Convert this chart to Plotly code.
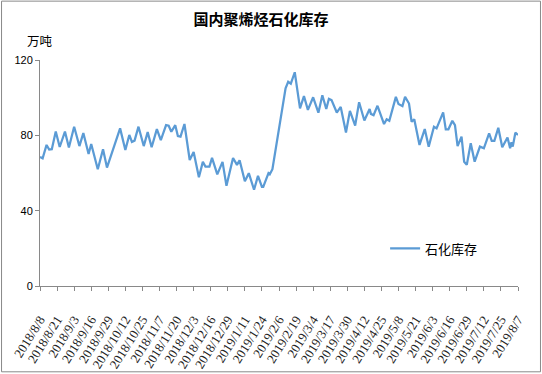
import plotly.graph_objects as go

dates = [
    "2018-08-08", "2018-08-10", "2018-08-13", "2018-08-15", "2018-08-17", "2018-08-20",
    "2018-08-23", "2018-08-27", "2018-08-30", "2018-09-03", "2018-09-07", "2018-09-10",
    "2018-09-14", "2018-09-16", "2018-09-21", "2018-09-25", "2018-09-28", "2018-10-08",
    "2018-10-12", "2018-10-15", "2018-10-17", "2018-10-19", "2018-10-22", "2018-10-26",
    "2018-10-29", "2018-11-01", "2018-11-05", "2018-11-08", "2018-11-12", "2018-11-14",
    "2018-11-16", "2018-11-19", "2018-11-21", "2018-11-23", "2018-11-26", "2018-11-30",
    "2018-12-03", "2018-12-07", "2018-12-10", "2018-12-12", "2018-12-15", "2018-12-17",
    "2018-12-21", "2018-12-25", "2018-12-28", "2019-01-02", "2019-01-05", "2019-01-07",
    "2019-01-11", "2019-01-14", "2019-01-18", "2019-01-21", "2019-01-24", "2019-01-25",
    "2019-01-29", "2019-01-30", "2019-02-01", "2019-02-11", "2019-02-13", "2019-02-15",
    "2019-02-18", "2019-02-22", "2019-02-25", "2019-02-28", "2019-03-04", "2019-03-08",
    "2019-03-11", "2019-03-14", "2019-03-16", "2019-03-18", "2019-03-22", "2019-03-25",
    "2019-03-29", "2019-04-01", "2019-04-05", "2019-04-08", "2019-04-12", "2019-04-16",
    "2019-04-17", "2019-04-19", "2019-04-22", "2019-04-27", "2019-04-29", "2019-05-01",
    "2019-05-06", "2019-05-08", "2019-05-11", "2019-05-13", "2019-05-16", "2019-05-18",
    "2019-05-20", "2019-05-24", "2019-05-28", "2019-05-31", "2019-06-04", "2019-06-06",
    "2019-06-11", "2019-06-13", "2019-06-15", "2019-06-18", "2019-06-20", "2019-06-22",
    "2019-06-25", "2019-06-27", "2019-06-29", "2019-07-02", "2019-07-05", "2019-07-09",
    "2019-07-12", "2019-07-16", "2019-07-18", "2019-07-20", "2019-07-23", "2019-07-26",
    "2019-07-30", "2019-08-01", "2019-08-02", "2019-08-03", "2019-08-05", "2019-08-07",
]

inventory = [
    68.5, 67.8, 74.9, 72.5, 72.6, 82.0,
    73.8, 82.0, 73.5, 84.6, 74.3, 81.2,
    70.1, 75.4, 62.0, 72.6, 62.9, 83.7,
    72.2, 80.2, 76.5, 77.2, 84.6, 74.3,
    81.7, 73.7, 83.3, 77.5, 85.4, 85.1,
    81.9, 85.4, 79.6, 79.3, 86.0, 66.9,
    71.2, 57.7, 65.9, 63.4, 63.4, 68.0,
    59.3, 65.9, 53.2, 68.0, 64.3, 66.8,
    55.6, 59.9, 51.1, 58.5, 52.6, 52.6,
    59.9, 59.3, 62.0, 105.0, 108.4, 107.4,
    113.5, 94.3, 100.8, 93.5, 100.2, 92.0,
    101.3, 94.0, 99.4, 98.7, 92.1, 95.1,
    81.5, 93.0, 85.2, 97.6, 87.9, 94.0,
    91.4, 90.7, 95.7, 86.0, 88.5, 87.7,
    100.4, 96.6, 95.5, 100.4, 96.9, 87.2,
    88.5, 74.9, 83.3, 74.0, 84.6, 83.7,
    92.2, 83.2, 83.2, 87.7, 85.4, 74.3,
    79.3, 66.0, 64.3, 75.8, 66.0, 74.0,
    73.1, 81.1, 77.1, 77.1, 84.0, 73.7,
    78.9, 73.1, 76.3, 74.0, 81.4, 80.2,
]

series_name = "石化库存"
chart_title = "国内聚烯烃石化库存"
unit_label = "万吨"
y_ticks = [0, 40, 80, 120]
x_start = "2018-08-08"
x_end = "2019-08-07"
tick_step_days = 13

axis_color = "#898989"

fig = go.Figure()
fig.add_trace(go.Scatter(
    x=dates, y=inventory, mode="lines", name=series_name,
    line=dict(color="#5B9BD5", width=2.25),
))

fig.update_layout(
    width=542, height=374,
    margin=dict(l=39.5, r=24, t=60, b=87.5, autoexpand=False),
    paper_bgcolor="white", plot_bgcolor="white",
    title=dict(
        text="<b>" + chart_title + "</b>",
        x=261 / 542, xref="container", xanchor="center",
        y=1 - 20 / 374, yref="container", yanchor="middle",
        font=dict(family="Noto Sans CJK SC", size=15, color="black"),
    ),
    showlegend=True,
    legend=dict(
        x=0.722, y=0.166, xanchor="left", yanchor="middle",
        bgcolor="rgba(0,0,0,0)",
        font=dict(family="Noto Sans CJK SC", size=13, color="black"),
    ),
    xaxis=dict(
        type="date", automargin=False,
        range=[x_start, x_end],
        tick0=x_start, dtick=tick_step_days * 86400000,
        tickformat="%Y/%-m/%-d",
        tickangle=-58,
        ticklabelstandoff=16,
        showline=True, linecolor=axis_color, linewidth=1,
        ticks="outside", ticklen=4, tickcolor=axis_color,
        showgrid=False, zeroline=False,
        tickfont=dict(family="Liberation Serif", size=13, color="#222"),
    ),
    yaxis=dict(
        automargin=False,
        range=[0, 120], tickvals=y_ticks,
        showline=True, linecolor=axis_color, linewidth=1,
        ticks="outside", ticklen=4, tickcolor=axis_color,
        showgrid=False, zeroline=False,
        tickfont=dict(family="Liberation Sans", size=11, color="black"),
    ),
    annotations=[dict(
        text=unit_label, xref="paper", yref="paper",
        x=0, y=(286.5 - 40) / 226.5, xanchor="center", yanchor="middle",
        showarrow=False,
        font=dict(family="Noto Sans CJK SC", size=12.5, color="black"),
    )],
    shapes=[dict(
        type="rect", xref="paper", yref="paper",
        x0=(1 - 39.5) / 478.5, x1=(540.5 - 39.5) / 478.5,
        y0=(286.5 - 372.5) / 226.5, y1=(286.5 - 1) / 226.5,
        line=dict(color=axis_color, width=1), fillcolor="rgba(0,0,0,0)",
        layer="below",
    )],
)

fig.write_html(
    "out.html",
    config={"displayModeBar": False},
    post_script="document.body.style.margin='0';document.body.style.overflow='hidden';",
)
